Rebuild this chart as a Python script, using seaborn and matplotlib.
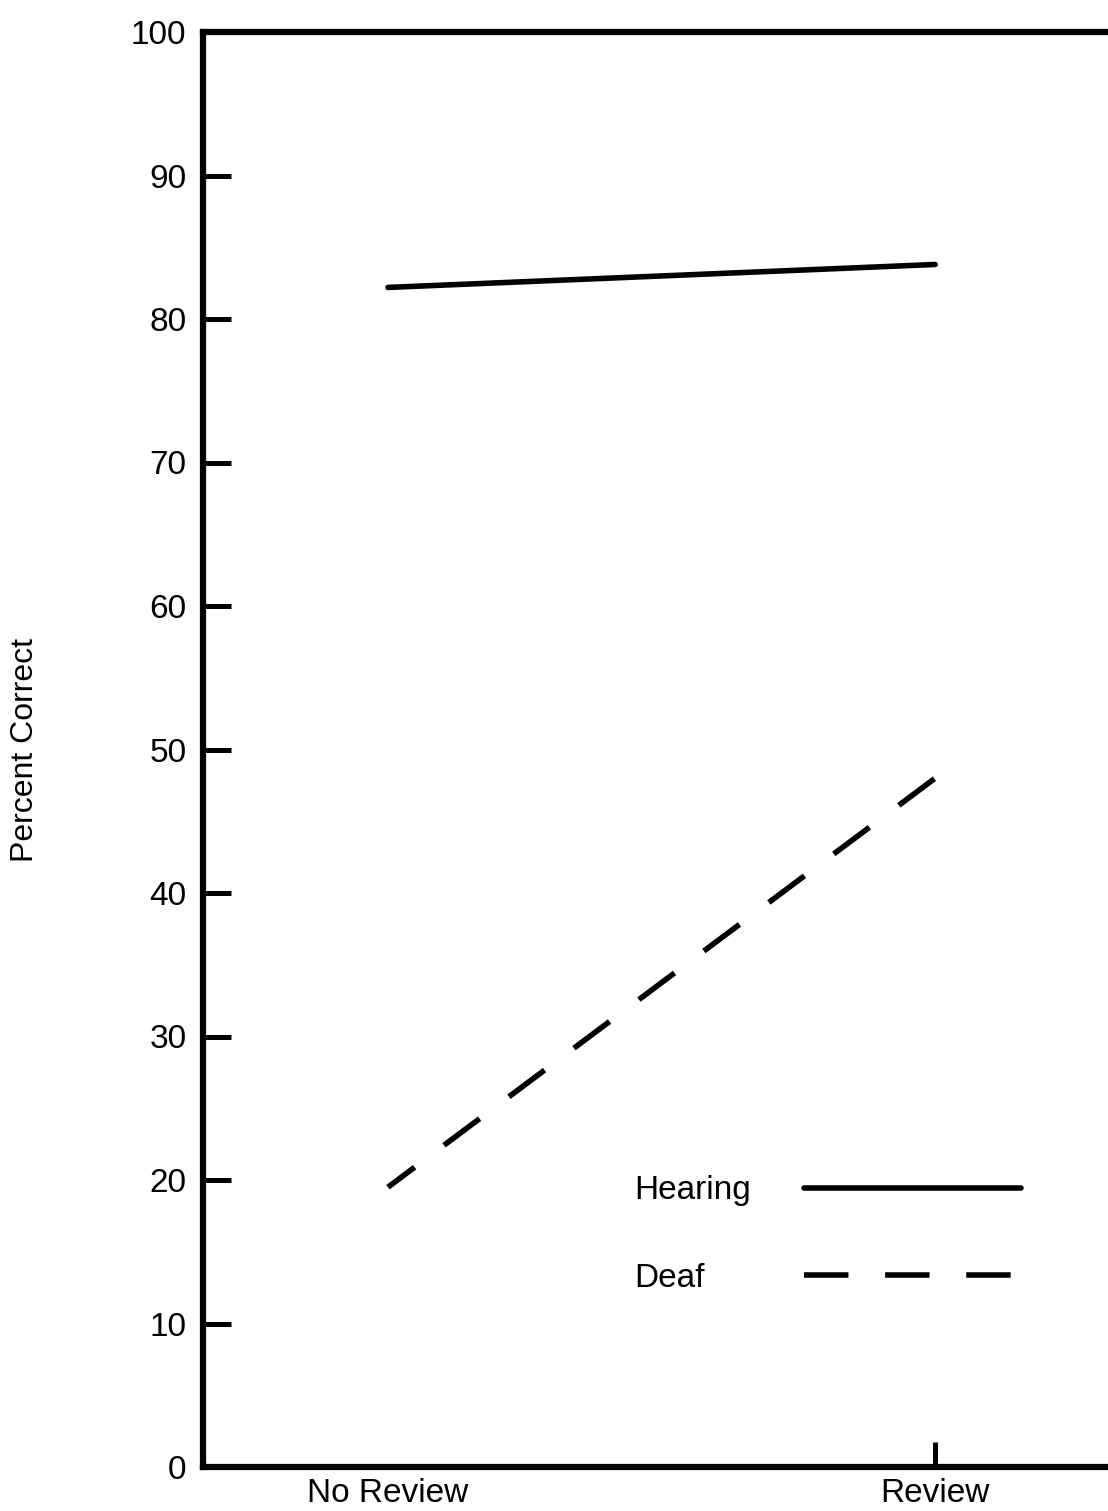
import matplotlib
matplotlib.use("Agg")
import matplotlib.pyplot as plt
import seaborn as sns
import pandas as pd

conditions = ["No Review", "Review"]
groups = ["Hearing", "Deaf"]
hearing_values = [82.2, 83.8]
deaf_values = [19.5, 48.0]
y_ticks = [0, 10, 20, 30, 40, 50, 60, 70, 80, 90, 100]

df = pd.DataFrame({
    "condition": conditions * 2,
    "group": [groups[0]] * 2 + [groups[1]] * 2,
    "percent": hearing_values + deaf_values,
})

sns.set_theme(style="white")
plt.rcParams["font.family"] = ["Liberation Sans", "DejaVu Sans"]
plt.rcParams["text.color"] = "black"

fig = plt.figure(figsize=(11.08, 15.11), dpi=100)
ax = fig.add_axes([203/1108, 1 - 1467/1511, 1 - 203/1108, (1467 - 32)/1511])

dash_pattern = (8, 6.6)
sns.lineplot(data=df, x="condition", y="percent", hue="group", style="group",
             hue_order=groups, style_order=groups,
             palette={"Hearing": "black", "Deaf": "black"},
             dashes={"Hearing": "", "Deaf": dash_pattern},
             linewidth=4, ax=ax, sort=False)
lines = ax.get_lines()
for ln in lines:
    ln.set_solid_capstyle("round")
    ln.set_dash_capstyle("butt")
lines[1].set_linestyle((2, dash_pattern))

ax.set_xlim(-0.338, 1.316)
ax.set_ylim(0, 100)
ax.set_yticks(y_ticks)
ax.set_yticklabels([str(v) for v in y_ticks])
ax.set_xticks([0, 1])
ax.set_xticklabels(conditions)

for side in ["left", "bottom", "top"]:
    ax.spines[side].set_linewidth(4.5)
    ax.spines[side].set_color("black")
ax.spines["right"].set_visible(False)

ax.tick_params(axis="y", direction="in", length=20, width=3.6, colors="black",
               labelsize=24, pad=12, left=True)
ax.tick_params(axis="x", direction="in", length=18, width=3.6, colors="black",
               labelsize=24, pad=8, bottom=True)
ax.xaxis.get_major_ticks()[0].tick1line.set_visible(False)

ax.set_xlabel("")
ax.set_ylabel("Percent Correct", fontsize=23, color="black")
ax.yaxis.set_label_coords(-0.18, 0.5)

leg = ax.legend(loc="center", bbox_to_anchor=(0.69, 0.162), frameon=False,
                markerfirst=False, fontsize=24, handlelength=6.5,
                handletextpad=1.6, labelspacing=1.7, title=None)
for h in leg.get_lines():
    h.set_linewidth(4)
    h.set_dash_capstyle("butt")
leg.get_lines()[1].set_linestyle((0, dash_pattern))
for t in leg.get_texts():
    t.set_color("black")

# left-align legend labels while keeping handles aligned
renderer = fig.canvas.get_renderer()
texts = leg.get_texts()
widths = [t.get_window_extent(renderer).width for t in texts]
wmax = max(widths)
rows = []
for col in leg._legend_handle_box.get_children():
    rows.extend(col.get_children())
    col.align = "left"
for row, w in zip(rows, widths):
    row.sep = row.sep + (wmax - w) * 72.0 / fig.dpi

fig.savefig("out.png", dpi=100, facecolor="white")
